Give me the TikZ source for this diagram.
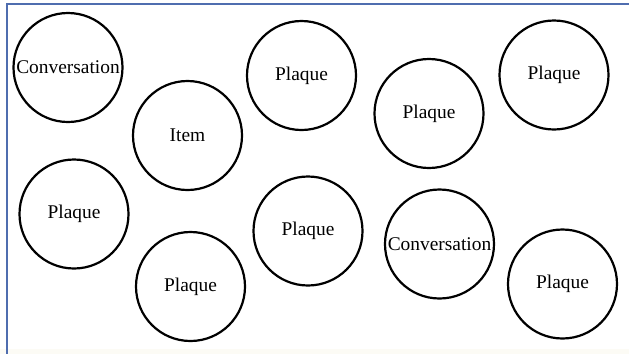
\documentclass[tikz,border=0pt]{standalone}
\usepackage{fontspec}
\setmainfont{Liberation Serif}
\definecolor{frameblue}{RGB}{79,109,175}
\definecolor{cream}{RGB}{252,251,245}
\begin{document}
\begin{tikzpicture}[x=1pt,y=-1pt,
  bubble/.style={circle,draw=black,line width=2.2pt,minimum size=109pt,inner sep=0pt,
    font=\fontsize{19.4}{21}\selectfont}]
\useasboundingbox (0,0) rectangle (629,354);
\fill[white] (0,0) rectangle (629,354);
\fill[cream] (0,349) rectangle (629,354);
\coordinate (tl) at (7,4);
\coordinate (tr) at (629,4);
\coordinate (bl) at (7,354);
\draw[frameblue,line width=2.4pt] (tr) -- (tl) -- (bl);
\node[bubble] (c1) at (68,67.5) {Conversation};
\node[bubble] (i1) at (187.5,135.5) {Item};
\node[bubble] (p1) at (301.5,75.5) {Plaque};
\node[bubble] (p2) at (429,113.5) {Plaque};
\node[bubble] (p3) at (554,75) {Plaque};
\node[bubble] (p4) at (74,214) {Plaque};
\node[bubble] (p5) at (308,231) {Plaque};
\node[bubble] (c2) at (439.5,244) {Conversation};
\node[bubble] (p6) at (190.5,286.5) {Plaque};
\node[bubble] (p7) at (562.5,284) {Plaque};
\end{tikzpicture}
\end{document}
